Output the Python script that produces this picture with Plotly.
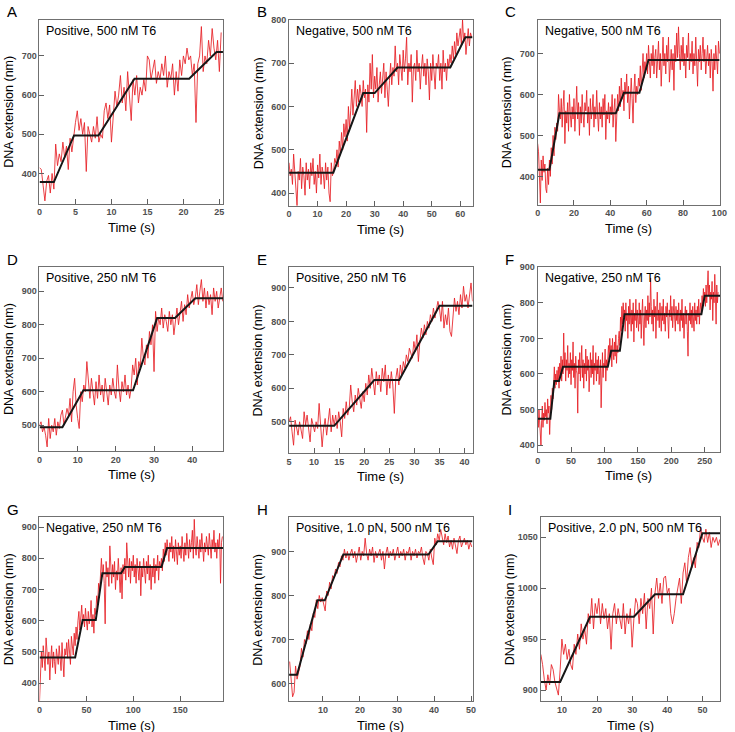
import numpy as np
import plotly.graph_objects as go

# ---------------- data ----------------
panel_letters = ["A", "B", "C", "D", "E", "F", "G", "H", "I"]
panel_titles = ["Positive, 500 nM T6", "Negative, 500 nM T6", "Negative, 500 nM T6",
                "Positive, 250 nM T6", "Positive, 250 nM T6", "Negative, 250 nM T6",
                "Negative, 250 nM T6", "Positive, 1.0 pN, 500 nM T6", "Positive, 2.0 pN, 500 nM T6"]

# sampling (start time, step in s) of each trace
A_time_start, A_time_step = 0.0, 0.25
B_time_start, B_time_step = 0.0, 0.4
C_time_start, C_time_step = 0.0, 0.5
D_time_start, D_time_step = 0.0, 0.4
E_time_start, E_time_step = 5.0, 0.3
F_time_start, F_time_step = 0.0, 1.0
G_time_start, G_time_step = 0.0, 1.0
H_time_start, H_time_step = 1.0, 0.4
I_time_start, I_time_step = 4.0, 0.5

A_ext = [415, 410, 370, 330, 380, 395, 350, 400, 360, 475, 420, 450, 430, 480, 440, 470, 410, 490, 455, 500,
         530, 560, 510, 540, 500, 530, 405, 520, 495, 480, 520, 490, 545, 480, 500, 490, 560, 580, 540, 575,
         480, 560, 610, 570, 600, 650, 580, 620, 560, 660, 600, 535, 640, 600, 650, 580, 620, 600, 640, 610,
         700, 690, 640, 670, 690, 630, 660, 640, 680, 650, 700, 620, 660, 640, 680, 600, 660, 610, 690, 650,
         700, 680, 720, 690, 700, 650, 680, 530, 680, 700, 775, 660, 700, 680, 740, 700, 770, 720, 690, 740,
         660, 760]
B_ext = [470, 440, 455, 420, 490, 445, 400, 370, 450, 430,
         480, 410, 460, 440, 395, 470, 430, 455, 410, 470,
         440, 480, 420, 450, 400, 465, 435, 490, 420, 460,
         445, 410, 470, 430, 460, 400, 380, 470, 440, 450,
         480, 470, 500, 460, 520, 490, 540, 500, 560, 530,
         570, 520, 600, 550, 590, 640, 580, 620, 660, 600,
         640, 610, 650, 630, 600, 660, 620, 640, 540, 650,
         610, 700, 640, 720, 620, 670, 640, 690, 610, 650,
         680, 630, 660, 700, 620, 680, 640, 600, 660, 700,
         650, 690, 670, 740, 680, 700, 650, 720, 690, 660,
         730, 680, 710, 760, 650, 700, 680, 720, 610, 690,
         700, 660, 730, 680, 700, 640, 690, 720, 670, 700,
         650, 710, 680, 615, 700, 660, 720, 680, 640, 700,
         690, 720, 660, 700, 640, 730, 680, 700, 660, 710,
         690, 720, 700, 740, 710, 750, 720, 770, 740, 760,
         780, 740, 800, 750, 770, 720, 760, 780, 740, 770,
         760]
C_ext = [480, 460, 400, 335, 440, 390, 450, 410, 430, 370,
         360, 420, 380, 440, 400, 470, 430, 500, 450, 520,
         490, 530, 510, 600, 560, 540, 590, 520, 570, 610,
         480, 560, 530, 580, 510, 600, 550, 520, 570, 540,
         590, 510, 560, 620, 540, 580, 500, 570, 530, 600,
         550, 520, 580, 560, 610, 530, 570, 500, 590, 540,
         560, 600, 520, 570, 540, 610, 550, 510, 580, 540,
         570, 520, 590, 550, 600, 490, 560, 540, 580, 530,
         570, 550, 600, 520, 560, 590, 485, 570, 600, 560,
         620, 570, 640, 590, 610, 560, 630, 600, 650, 580,
         620, 540, 600, 640, 590, 530, 610, 650, 580, 620,
         600, 640, 620, 670, 610, 650, 700, 640, 680, 660,
         700, 650, 720, 680, 640, 700, 670, 720, 650, 690,
         710, 640, 680, 730, 660, 700, 620, 690, 740, 670,
         700, 650, 720, 680, 740, 630, 690, 710, 660, 700,
         610, 720, 680, 750, 690, 765, 700, 660, 720, 680,
         740, 670, 700, 640, 720, 690, 750, 660, 700, 680,
         730, 650, 700, 670, 740, 690, 620, 710, 680, 720,
         660, 700, 740, 680, 710, 650, 690, 720, 670, 700,
         640, 710, 680, 608, 700, 660, 720, 690, 650, 730,
         700]
D_ext = [500, 510, 480, 495, 470, 435, 520, 460, 500, 480,
         520, 470, 510, 490, 530, 545, 500, 520, 550, 530,
         580, 510, 600, 640, 560, 520, 490, 600, 570, 620,
         600, 690, 620, 580, 640, 600, 560, 630, 580, 650,
         590, 620, 570, 640, 600, 560, 620, 590, 640, 600,
         580, 680, 610, 570, 630, 600, 650, 590, 620, 580,
         610, 680, 650, 700, 620, 690, 670, 760, 700, 680,
         740, 700, 780, 740, 800, 660, 840, 780, 820, 800,
         850, 790, 830, 810, 780, 840, 800, 830, 770, 820,
         850, 800, 840, 870, 810, 860, 830, 890, 850, 870,
         900, 860, 880, 920, 860, 900, 935, 870, 910, 850,
         900, 860, 890, 830, 910, 870, 900, 850, 880, 910,
         870]
E_ext = [500, 515, 470, 430, 505, 480, 460, 500, 470, 450,
         530, 490, 520, 470, 440, 510, 490, 470, 500, 480,
         555, 500, 425, 480, 510, 460, 500, 540, 470, 520,
         490, 520, 480, 530, 500, 455, 540, 510, 560, 520,
         540, 610, 560, 530, 580, 550, 600, 570, 540, 590,
         560, 615, 580, 640, 600, 660, 620, 580, 650, 610,
         640, 590, 660, 620, 670, 580, 640, 600, 650, 610,
         525, 630, 660, 610, 670, 640, 680, 660, 700, 680,
         720, 700, 690, 740, 710, 760, 680, 740, 780, 750,
         790, 760, 800, 780, 820, 800, 840, 810, 830, 860,
         840, 800, 860, 780, 820, 790, 840, 770, 755, 820,
         870, 830, 860, 820, 880, 840, 905, 860, 880, 840,
         870, 915, 860]
F_ext = [480, 450, 500, 460, 420, 400, 470, 510, 450, 490,
         470, 520, 480, 500, 460, 530, 490, 510, 430, 520,
         540, 500, 560, 530, 590, 620, 560, 600, 570, 610,
         580, 620, 560, 630, 600, 650, 580, 640, 600, 715,
         620, 660, 580, 640, 610, 680, 590, 630, 600, 660,
         570, 640, 610, 690, 590, 630, 560, 650, 610, 600,
         490, 640, 600, 660, 580, 620, 680, 590, 640, 560,
         630, 600, 670, 580, 650, 610, 640, 550, 620, 660,
         590, 640, 600, 680, 570, 630, 610, 660, 580, 640,
         600, 650, 570, 620, 640, 505, 610, 660, 590, 630,
         620, 670, 580, 640, 610, 660, 680, 640, 700, 650,
         680, 620, 700, 660, 640, 690, 650, 710, 630, 680,
         660, 700, 720, 680, 760, 720, 790, 740, 800, 760,
         780, 720, 800, 750, 770, 700, 790, 740, 810, 760,
         720, 780, 740, 800, 690, 770, 750, 810, 730, 780,
         760, 720, 800, 740, 780, 700, 770, 810, 740, 680,
         760, 790, 730, 780, 750, 820, 740, 800, 760, 870,
         790, 740, 780, 720, 810, 760, 790, 700, 770, 830,
         750, 780, 730, 800, 760, 720, 790, 750, 810, 740,
         770, 720, 790, 760, 800, 740, 700, 780, 760, 820,
         750, 790, 730, 770, 810, 760, 720, 790, 750, 780,
         740, 800, 760, 720, 780, 750, 810, 730, 770, 700,
         760, 790, 740, 780, 720, 650, 770, 750, 800, 740,
         780, 730, 790, 760, 720, 800, 750, 780, 740, 790,
         760, 810, 740, 780, 800, 770, 820, 790, 840, 810,
         830, 790, 850, 800, 870, 890, 820, 850, 780, 830,
         810, 860, 750, 830, 800, 880, 820, 740, 850, 800,
         830]
G_ext = [340, 470, 500, 450, 520, 480, 440, 545, 490, 460,
         500, 410, 480, 520, 450, 500, 470, 430, 510, 480,
         460, 520, 490, 440, 530, 470, 420, 510, 490, 530,
         480, 540, 500, 460, 550, 510, 490, 560, 520, 580,
         540, 600, 630, 570, 610, 650, 590, 620, 580, 640,
         600, 570, 630, 590, 610, 665, 580, 620, 560, 640,
         620, 680, 650, 720, 690, 760, 800, 740, 780, 720,
         590, 790, 740, 770, 710, 840, 750, 720, 780, 740,
         790, 700, 760, 730, 800, 740, 690, 770, 670, 780,
         750, 800, 730, 850, 770, 740, 800, 720, 790, 760,
         810, 740, 780, 720, 800, 760, 730, 790, 680, 770,
         740, 800, 760, 720, 790, 750, 810, 730, 780, 700,
         770, 740, 800, 720, 780, 760, 810, 730, 790, 770,
         800, 760, 830, 790, 850, 810, 860, 820, 790, 850,
         820, 870, 800, 840, 790, 860, 830, 780, 850, 810,
         840, 800, 870, 820, 790, 850, 810, 880, 830, 800,
         860, 820, 850, 890, 800, 925, 840, 810, 870, 830,
         800, 860, 820, 880, 840, 790, 850, 820, 870, 830,
         810, 880, 840, 800, 860, 830, 890, 820, 850, 800,
         860, 830, 880, 720, 850, 870]
H_ext = [650, 600, 570, 580, 640, 610, 625, 640, 680, 660,
         700, 690, 720, 700, 735, 720, 760, 750, 790, 770,
         800, 785, 795, 780, 765, 810, 800, 830, 815, 845,
         840, 860, 850, 875, 865, 890, 880, 905, 885, 900,
         880, 895, 905, 885, 900, 875, 895, 910, 880, 900,
         890, 930, 895, 880, 905, 890, 910, 875, 900, 885,
         895, 905, 880, 900, 860, 895, 910, 885, 900, 890,
         905, 880, 895, 910, 885, 900, 890, 905, 880, 900,
         895, 910, 880, 900, 890, 905, 885, 900, 895, 910,
         885, 870, 900, 895, 880, 905, 885, 870, 930, 915,
         940, 925, 950, 930, 915, 940, 920, 935, 910, 925,
         905, 930, 915, 895, 925, 935, 910, 920, 930, 915,
         925, 905, 920, 910]
I_ext = [935, 925, 910, 900, 915, 905, 925, 920, 908, 900,
         895, 920, 950, 935, 945, 930, 940, 925, 920, 945,
         935, 955, 940, 965, 950, 960, 945, 975, 965, 990,
         960, 985, 975, 990, 965, 985, 970, 980, 960, 975,
         940, 975, 985, 965, 980, 970, 960, 985, 955, 975,
         965, 980, 942, 970, 990, 985, 965, 990, 975, 995,
         960, 990, 980, 1000, 955, 995, 1010, 990, 1005, 985,
         1010, 1012, 995, 1000, 975, 965, 975, 990, 1000, 1010,
         985, 1015, 1025, 1005, 1030, 1040, 1020, 1030, 1020, 1045,
         1040, 1060, 1050, 1045, 1058, 1045, 1055, 1040, 1050, 1045,
         1050, 1042, 1048]

# step fits (time, extension)
A_fit_t = [0, 2, 4.8, 8.2, 13.2, 20.8, 24.6, 25.5]
A_fit_y = [378, 378, 497, 497, 642, 642, 710, 710]
B_fit_t = [0, 15.5, 26, 30, 38, 56.5, 61.8, 64.3]
B_fit_y = [447, 447, 631, 631, 690, 690, 760, 760]
C_fit_t = [0, 6.5, 12, 43, 47.5, 56, 61, 100]
C_fit_y = [416, 416, 554, 554, 604, 604, 684, 684]
D_fit_t = [0, 6, 11.5, 24.5, 30.8, 35.5, 40.8, 48.1]
D_fit_y = [494, 494, 604, 604, 820, 820, 879, 879]
E_fit_t = [5, 14, 22, 27, 35, 41.6]
E_fit_y = [488, 488, 625, 625, 847, 847]
F_fit_t = [0, 19, 25, 32, 38, 105, 110, 123, 130, 245, 250, 273]
F_fit_y = [474, 474, 580, 580, 620, 620, 665, 665, 768, 768, 820, 820]
G_fit_t = [0, 38, 46, 60, 67, 87, 91, 130, 136, 196]
G_fit_y = [482, 482, 602, 602, 752, 752, 772, 772, 833, 833]
H_fit_t = [0.84, 3, 8.5, 10.5, 15.5, 38.5, 41, 50.4]
H_fit_y = [620, 620, 789, 789, 893, 893, 923, 923]
I_fit_t = [3.93, 9.5, 18, 30.5, 36.5, 44.5, 50, 55.05]
I_fit_y = [908, 908, 972, 972, 994, 994, 1054, 1054]

# axis ranges and ticks
x_ranges = [[0, 25.5], [0, 64.3], [0, 100.4], [0, 48.05], [5, 41.6], [0, 273], [0, 195.6], [0.84, 50.4], [3.93, 55.05]]
y_ranges = [[323, 792], [371, 800], [331, 782], [423, 972], [407, 962], [381, 900], [342, 931], [560, 977], [889, 1069.5]]
x_ticks = [[0, 5, 10, 15, 20, 25], [0, 10, 20, 30, 40, 50, 60], [0, 20, 40, 60, 80, 100], [0, 10, 20, 30, 40],
           [5, 10, 15, 20, 25, 30, 35, 40], [0, 50, 100, 150, 200, 250], [0, 50, 100, 150],
           [10, 20, 30, 40, 50], [10, 20, 30, 40, 50]]
y_ticks = [[400, 500, 600, 700], [400, 500, 600, 700, 800], [400, 500, 600, 700], [500, 600, 700, 800, 900],
           [500, 600, 700, 800, 900], [400, 500, 600, 700, 800, 900], [400, 500, 600, 700, 800, 900],
           [600, 700, 800, 900], [900, 950, 1000, 1050]]

traces = [
    (A_time_start, A_time_step, A_ext, A_fit_t, A_fit_y),
    (B_time_start, B_time_step, B_ext, B_fit_t, B_fit_y),
    (C_time_start, C_time_step, C_ext, C_fit_t, C_fit_y),
    (D_time_start, D_time_step, D_ext, D_fit_t, D_fit_y),
    (E_time_start, E_time_step, E_ext, E_fit_t, E_fit_y),
    (F_time_start, F_time_step, F_ext, F_fit_t, F_fit_y),
    (G_time_start, G_time_step, G_ext, G_fit_t, G_fit_y),
    (H_time_start, H_time_step, H_ext, H_fit_t, H_fit_y),
    (I_time_start, I_time_step, I_ext, I_fit_t, I_fit_y),
]

# ---------------- layout geometry (pixels) ----------------
W, H = 735, 732
boxes = [  # left, right, top, bottom
    (37, 223, 15, 200), (290, 476, 15, 202), (542, 727, 15, 201),
    (37, 223, 264, 449), (290, 476, 264, 451), (542, 727, 264, 450),
    (37, 223, 516, 701), (290, 476, 516, 701), (545, 727, 516, 701),
]

FONT = "Liberation Sans, Arial, sans-serif"
fig = go.Figure()
layout = dict(width=W, height=H, margin=dict(l=0, r=0, t=0, b=0),
              paper_bgcolor="white", plot_bgcolor="white", showlegend=False,
              font=dict(family=FONT, color="black"))
annotations = []

for i, (t0, dt, ext, ft, fy) in enumerate(traces):
    n = i + 1
    xa = "x" if n == 1 else f"x{n}"
    ya = "y" if n == 1 else f"y{n}"
    t = t0 + dt * np.arange(len(ext))
    fig.add_trace(go.Scatter(x=t, y=ext, mode="lines", xaxis=xa, yaxis=ya,
                             line=dict(color="rgba(230,30,36,0.85)", width=1)))
    fig.add_trace(go.Scatter(x=ft, y=fy, mode="lines", xaxis=xa, yaxis=ya,
                             line=dict(color="#161616", width=2)))
    L, R, T, B = boxes[i]
    axcommon = dict(showline=True, linecolor="#707070", linewidth=1, mirror=True,
                    showgrid=False, zeroline=False, ticks="inside", ticklen=5,
                    tickcolor="#606060",
                    tickfont=dict(family=FONT, size=9, color="#505050", weight="bold"))
    layout["xaxis" if n == 1 else f"xaxis{n}"] = dict(
        domain=[L / W, R / W], anchor=ya, range=x_ranges[i], tickvals=x_ticks[i], **axcommon)
    layout["yaxis" if n == 1 else f"yaxis{n}"] = dict(
        domain=[1 - B / H, 1 - T / H], anchor=xa, range=y_ranges[i], tickvals=y_ticks[i], **axcommon)
    # panel title inside
    annotations.append(dict(text=panel_titles[i], x=(L + 5) / W, y=1 - (T + 11) / H,
                            xref="paper", yref="paper", xanchor="left", yanchor="middle",
                            showarrow=False, font=dict(size=12.5, color="black", family=FONT)))
    # panel letter
    annotations.append(dict(text=panel_letters[i], x=(L - 35) / W, y=1 - (T - 8) / H,
                            xref="paper", yref="paper", xanchor="left", yanchor="middle",
                            showarrow=False, font=dict(size=15, color="black", family=FONT)))
    # axis titles
    annotations.append(dict(text="Time (s)", x=(L + R) / 2 / W, y=1 - (B + 24) / H,
                            xref="paper", yref="paper", xanchor="center", yanchor="middle",
                            showarrow=False, font=dict(size=13, color="black", family=FONT)))
    annotations.append(dict(text="DNA extension (nm)", x=(L - 31) / W, y=1 - (T + B) / 2 / H,
                            xref="paper", yref="paper", xanchor="center", yanchor="middle",
                            textangle=-90, showarrow=False,
                            font=dict(size=12.5, color="black", family=FONT)))

layout["annotations"] = annotations
fig.update_layout(**layout)
fig.write_html("out.html", config={"displayModeBar": False},
               post_script="document.body.style.margin='0';document.body.style.padding='0';")
